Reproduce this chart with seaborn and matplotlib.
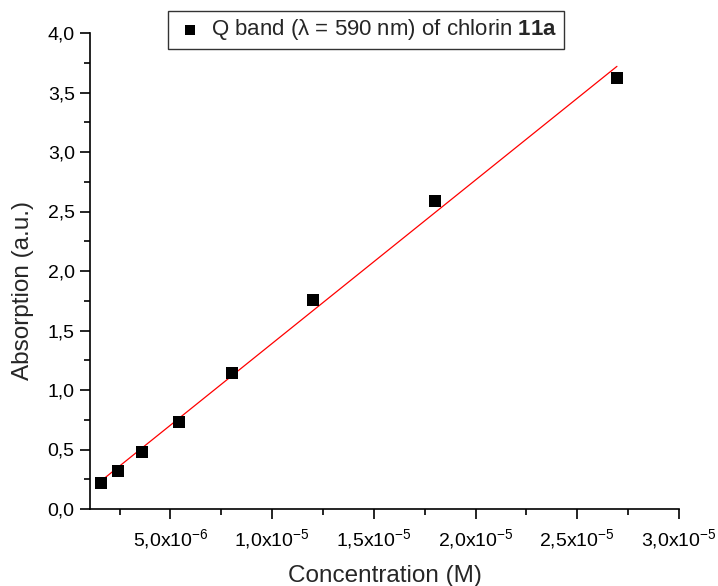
import numpy as np
import pandas as pd
import matplotlib
matplotlib.use("Agg")
import matplotlib.pyplot as plt
from matplotlib.ticker import MultipleLocator, FuncFormatter
import seaborn as sns

concentration = [1.6e-6, 2.45e-6, 3.6e-6, 5.4e-6, 8.05e-6, 1.20e-5, 1.80e-5, 2.695e-5]
absorption = [0.22, 0.32, 0.48, 0.73, 1.14, 1.76, 2.59, 3.62]
series_label = "Q band (λ = 590 nm) of chlorin " + r"$\mathbf{11a}$"

sns.set_theme(style="ticks")
plt.rcParams['font.family'] = ['Liberation Sans', 'DejaVu Sans']
plt.rcParams['mathtext.fontset'] = 'custom'
plt.rcParams['mathtext.rm'] = 'Liberation Sans'
plt.rcParams['mathtext.it'] = 'Liberation Sans:italic'
plt.rcParams['mathtext.bf'] = 'Liberation Sans:bold'
plt.rcParams['mathtext.sf'] = 'Liberation Sans'

df = pd.DataFrame({"c": concentration, "a": absorption})
slope, intercept = np.polyfit(df["c"], df["a"], 1)
fit_x = np.array([df["c"].min(), df["c"].max()])
fit_df = pd.DataFrame({"c": fit_x, "a": slope * fit_x + intercept})

fig = plt.figure(figsize=(7.18, 5.86), dpi=100)
ax = fig.add_axes([90/718, 77/586, (679-90)/718, (509-33)/586])

sns.lineplot(data=fit_df, x="c", y="a", ax=ax, color="red", linewidth=0.9, legend=False)
sns.scatterplot(data=df, x="c", y="a", ax=ax, marker="s", s=85, color="black",
                edgecolor="black", linewidth=0, label=series_label, zorder=3)

ax.set_xlim(1.05e-6, 3.0e-5)
ax.set_ylim(0, 4.0)
ax.xaxis.set_major_locator(MultipleLocator(5e-6))
ax.xaxis.set_minor_locator(MultipleLocator(2.5e-6))
ax.yaxis.set_major_locator(MultipleLocator(0.5))
ax.yaxis.set_minor_locator(MultipleLocator(0.25))

def xfmt(v, pos):
    if abs(v) < 1e-12:
        return "0"
    exp = int(np.floor(np.log10(abs(v)) + 1e-9))
    mant = v / 10**exp
    return (f"{mant:.1f}".replace(".", ",")) + r"x10$^{" + str(exp) + "}$"

ax.xaxis.set_major_formatter(FuncFormatter(xfmt))
ax.yaxis.set_major_formatter(FuncFormatter(lambda v, p: f"{v:.1f}".replace(".", ",")))

for s in ["top", "right"]:
    ax.spines[s].set_visible(False)
for s in ["left", "bottom"]:
    ax.spines[s].set_color("black")
    ax.spines[s].set_linewidth(1.2)

ax.tick_params(axis="both", which="major", direction="out", length=7, width=1.2,
               labelsize=14, colors="black", pad=4)
ax.tick_params(axis="both", which="minor", direction="out", length=4, width=1.2, colors="black")
ax.tick_params(axis="x", which="major", pad=6)

ax.set_xlabel("Concentration (M)", fontsize=17.5)
ax.set_ylabel("Absorption (a.u.)", fontsize=17.5)
ax.xaxis.set_label_coords(0.5, (509 - 576) / 476)
ax.xaxis.label.set_va("center")
ax.yaxis.set_label_coords((23 - 90) / 589, (509 - 291) / 476)
ax.yaxis.label.set_va("center")
ax.yaxis.label.set_ha("center")

ax.get_legend().remove()
handles, labels = ax.get_legend_handles_labels()
leg = fig.legend(handles, labels, loc="center", bbox_to_anchor=(366/718, 1 - 30/586),
                 frameon=True, fancybox=False, fontsize=16, handletextpad=0.3,
                 borderpad=0.3, markerscale=0.75, handlelength=1.3)
leg.get_frame().set_edgecolor("black")
leg.get_frame().set_linewidth(1.0)

fig.savefig("out.png", dpi=100)
